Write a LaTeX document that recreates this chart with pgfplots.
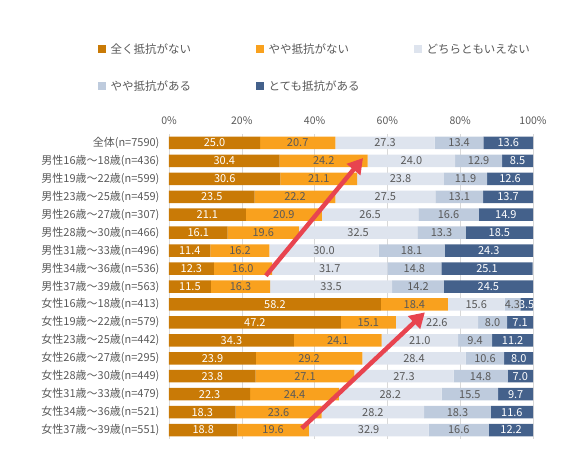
\documentclass[border=0pt]{standalone}
\usepackage{pgfplots}
\pgfplotsset{compat=1.18}
\usepackage{pgfplotstable}
\usepackage{fontspec}
\setmainfont{Noto Sans CJK JP}
\usetikzlibrary{arrows.meta}
\definecolor{c1}{HTML}{C97A06}
\definecolor{c2}{HTML}{F9A11E}
\definecolor{c3}{HTML}{DEE4EE}
\definecolor{c4}{HTML}{BECBDD}
\definecolor{c5}{HTML}{44618B}
\definecolor{txt}{HTML}{595959}
\definecolor{arr}{HTML}{E8444F}
\definecolor{grd}{HTML}{D9D9D9}
\pgfplotstableread{
i a b c d e
0 25.0 20.7 27.3 13.4 13.6
1 30.4 24.2 24.0 12.9 8.5
2 30.6 21.1 23.8 11.9 12.6
3 23.5 22.2 27.5 13.1 13.7
4 21.1 20.9 26.5 16.6 14.9
5 16.1 19.6 32.5 13.3 18.5
6 11.4 16.2 30.0 18.1 24.3
7 12.3 16.0 31.7 14.8 25.1
8 11.5 16.3 33.5 14.2 24.5
9 58.2 18.4 15.6 4.3 3.5
10 47.2 15.1 22.6 8.0 7.1
11 34.3 24.1 21.0 9.4 11.2
12 23.9 29.2 28.4 10.6 8.0
13 23.8 27.1 27.3 14.8 7.0
14 22.3 24.4 28.2 15.5 9.7
15 18.3 23.6 28.2 18.3 11.6
16 18.8 19.6 32.9 16.6 12.2
}\datatable
\pgfplotsset{
  sqleg/.style={legend image code/.code={\fill[##1,draw=none] (0pt,-4pt) rectangle (8pt,4pt);}},
  common/.style={at={(169pt,19pt)}, anchor=south west,
    scale only axis, width=364pt, height=305pt,
    xmin=0, xmax=100, ymin=-0.5, ymax=16.5, y dir=reverse},
  lab/.style={draw=none, mark=none, nodes near coords align={center},
    nodes near coords={\pgfmathprintnumber[fixed,fixed zerofill,precision=1]{\pgfplotspointmeta}},
    every node near coord/.append style={text=#1, font=\fontsize{11}{12}\selectfont}},
}
\begin{document}
\begin{tikzpicture}
\useasboundingbox (0,0) rectangle (568pt,458pt);
\begin{axis}[common,
  xbar stacked, bar width=12.5pt,
  axis line style={draw=none},
  /pgf/number format/assume math mode=true,
  xtick={0,20,40,60,80,100},
  xticklabels={0\%,20\%,40\%,60\%,80\%,100\%},
  xticklabel pos=top,
  xmajorgrids, grid style={grd, line width=0.6pt},
  ytick={0,...,16},
  yticklabels={全体(n=7590),男性16歳〜18歳(n=436),男性19歳〜22歳(n=599),男性23歳〜25歳(n=459),男性26歳〜27歳(n=307),男性28歳〜30歳(n=466),男性31歳〜33歳(n=496),男性34歳〜36歳(n=536),男性37歳〜39歳(n=563),女性16歳〜18歳(n=413),女性19歳〜22歳(n=579),女性23歳〜25歳(n=442),女性26歳〜27歳(n=295),女性28歳〜30歳(n=449),女性31歳〜33歳(n=479),女性34歳〜36歳(n=521),女性37歳〜39歳(n=551)},
  major tick length=0pt,
  tick label style={font=\fontsize{10.5}{12}\selectfont, text=txt},
  yticklabel style={xshift=-6pt, font=\fontsize{11}{12}\selectfont},
  xticklabel style={yshift=6pt},
  legend columns=3,
  legend style={at={(-0.205,1.31)}, anchor=north west, draw=none, fill=none,
    font=\fontsize{11.5}{13}\selectfont, text=txt,
    /tikz/every odd column/.append style={column sep=3pt},
    row sep=22pt},
]
\addplot[fill=c1, draw=none, sqleg] table[x=a,y=i]{\datatable};
\addplot[fill=c2, draw=none, sqleg] table[x=b,y=i]{\datatable};
\addplot[fill=c3, draw=none, sqleg] table[x=c,y=i]{\datatable};
\addplot[fill=c4, draw=none, sqleg] table[x=d,y=i]{\datatable};
\addplot[fill=c5, draw=none, sqleg] table[x=e,y=i]{\datatable};
\addlegendentry{\makebox[143pt][l]{全く抵抗がない}}
\addlegendentry{\makebox[143pt][l]{やや抵抗がない}}
\addlegendentry{\makebox[143pt][l]{どちらともいえない}}
\addlegendentry{\makebox[143pt][l]{やや抵抗がある}}
\addlegendentry{\makebox[143pt][l]{とても抵抗がある}}
\coordinate (A1) at (axis cs:26.6,7.4);
\coordinate (B1) at (axis cs:53.3,0.84);
\coordinate (A2) at (axis cs:36.5,15.9);
\coordinate (B2) at (axis cs:70.3,9.44);
\end{axis}
\begin{axis}[common, hide axis, point meta=explicit,
  /pgf/number format/assume math mode=true]
\addplot[lab=white] table[x expr=\thisrow{a}/2, y=i, meta=a]{\datatable};
\addplot[lab=txt] table[x expr=\thisrow{a}+\thisrow{b}/2, y=i, meta=b]{\datatable};
\addplot[lab=txt] table[x expr=\thisrow{a}+\thisrow{b}+\thisrow{c}/2, y=i, meta=c]{\datatable};
\addplot[lab=txt] table[x expr=\thisrow{a}+\thisrow{b}+\thisrow{c}+\thisrow{d}/2, y=i, meta=d]{\datatable};
\addplot[lab=white] table[x expr=\thisrow{a}+\thisrow{b}+\thisrow{c}+\thisrow{d}+\thisrow{e}/2, y=i, meta=e]{\datatable};
\end{axis}
\draw[arr, line width=4.5pt, -{Triangle[length=15pt,width=17pt]}] (A1) -- (B1);
\draw[arr, line width=4.5pt, -{Triangle[length=15pt,width=17pt]}] (A2) -- (B2);
\end{tikzpicture}
\end{document}
